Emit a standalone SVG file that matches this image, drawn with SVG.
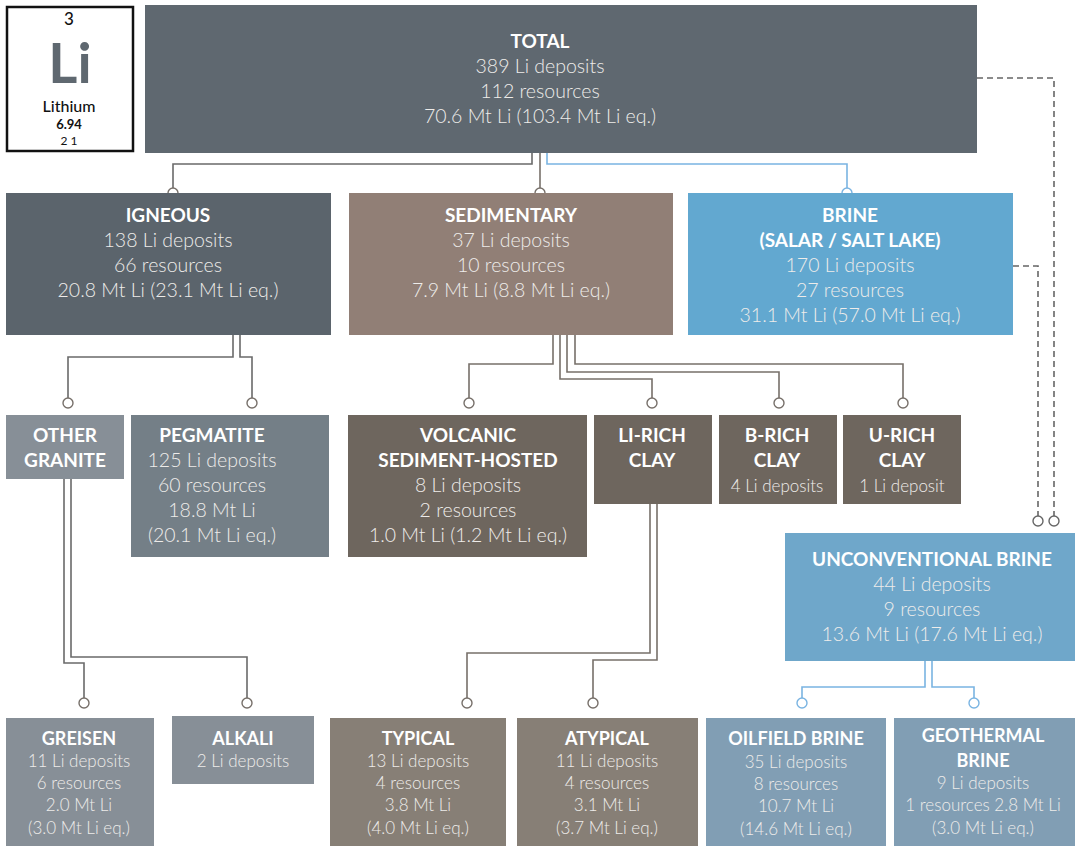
<svg xmlns="http://www.w3.org/2000/svg" width="1081" height="846" viewBox="0 0 1081 846">
<style>
.t{font-family:Lato,"Open Sans","Liberation Sans",sans-serif;font-weight:700;fill:#ffffff;text-anchor:middle;font-size:19px}
.v{font-family:Lato,"Open Sans","Liberation Sans",sans-serif;font-weight:300;fill:#eeecea;text-anchor:middle;font-size:19.5px}
.ts{font-size:18px}
.vs{font-size:17px}
.el{font-family:Lato,"DejaVu Sans","Liberation Sans",sans-serif;text-anchor:middle;fill:#111}
.g{fill:none;stroke:#77706a;stroke-width:1.6}
.gi{fill:none;stroke:#6a6a6a;stroke-width:1.6}
.b{fill:none;stroke:#7ab4e2;stroke-width:1.6}
.d{fill:none;stroke:#666;stroke-width:1.6;stroke-dasharray:6 4}
.c{fill:#fff;stroke:#77706a;stroke-width:1.4}
.cb{fill:#fff;stroke:#7ab4e2;stroke-width:1.4}
.cd{fill:#fff;stroke:#666;stroke-width:1.4}
</style>
<rect width="1081" height="846" fill="#fff"/>

<g id="element">
<rect x="7" y="7" width="126" height="144" fill="#fff" stroke="#111" stroke-width="2.5"/>
<text class="el" x="69" y="25" font-size="17" font-weight="500">3</text>
<text class="el" x="70" y="83" font-size="56" font-weight="700" style="fill:#5f6870">Li</text>
<text class="el" x="69" y="112" font-size="16" font-weight="500">Lithium</text>
<text class="el" x="69" y="129" font-size="13" font-weight="700">6.94</text>
<text class="el" x="69" y="145" font-size="12">2 1</text>
</g>

<g id="connectors">
<path class="gi" d="M532 153V164H173V193"/>
<path class="g" d="M540 153V193"/>
<path class="b" d="M547 153V164H847V193"/>
<path class="d" d="M977 78H1054V516"/>
<path class="d" d="M1013 266H1038V516"/>
<path class="gi" d="M233 335V357H68V403"/>
<path class="gi" d="M240 335V357H252V403"/>
<path class="g" d="M553 335V364H469V403"/>
<path class="g" d="M560 335V379H652V403"/>
<path class="g" d="M567 335V372H779V403"/>
<path class="g" d="M575 335V364H903V403"/>
<path class="gi" d="M64 479V663H84V703"/>
<path class="gi" d="M71 479V657H247V703"/>
<path class="g" d="M650 504V653H467V703"/>
<path class="g" d="M657 504V660H593V703"/>
<path class="b" d="M925 661V687H802V703"/>
<path class="b" d="M932 661V687H974V703"/>
<circle class="c" cx="173" cy="193" r="5"/>
<circle class="c" cx="540" cy="193" r="5"/>
<circle class="cb" cx="847" cy="193" r="5"/>
<circle class="cd" cx="1038" cy="521" r="5"/>
<circle class="cd" cx="1054" cy="521" r="5"/>
<circle class="c" cx="68" cy="403" r="5"/>
<circle class="c" cx="252" cy="403" r="5"/>
<circle class="c" cx="469" cy="403" r="5"/>
<circle class="c" cx="652" cy="403" r="5"/>
<circle class="c" cx="779" cy="403" r="5"/>
<circle class="c" cx="903" cy="403" r="5"/>
<circle class="c" cx="84" cy="703" r="5"/>
<circle class="c" cx="247" cy="703" r="5"/>
<circle class="c" cx="467" cy="703" r="5"/>
<circle class="c" cx="593" cy="703" r="5"/>
<circle class="cb" cx="802" cy="703" r="5"/>
<circle class="cb" cx="974" cy="703" r="5"/>
</g>

<g id="total">
<rect x="145" y="5" width="832" height="148" fill="#5f6870"/>
<text class="t" x="540" y="48">TOTAL</text>
<text class="v" x="540" y="73">389 Li deposits</text>
<text class="v" x="540" y="98">112 resources</text>
<text class="v" x="540" y="123">70.6 Mt Li (103.4 Mt Li eq.)</text>
</g>

<g id="igneous">
<rect x="6" y="193" width="325" height="142" fill="#5b646c"/>
<text class="t" x="168" y="222">IGNEOUS</text>
<text class="v" x="168" y="247">138 Li deposits</text>
<text class="v" x="168" y="272">66 resources</text>
<text class="v" x="168" y="297">20.8 Mt Li (23.1 Mt Li eq.)</text>
</g>

<g id="sedimentary">
<rect x="349" y="193" width="324" height="142" fill="#917f76"/>
<text class="t" x="511" y="222">SEDIMENTARY</text>
<text class="v" x="511" y="247">37 Li deposits</text>
<text class="v" x="511" y="272">10 resources</text>
<text class="v" x="511" y="297">7.9 Mt Li (8.8 Mt Li eq.)</text>
</g>

<g id="brine">
<rect x="688" y="193" width="325" height="142" fill="#62a8d0"/>
<text class="t" x="850" y="222">BRINE</text>
<text class="t" x="850" y="247">(SALAR / SALT LAKE)</text>
<text class="v" x="850" y="272">170 Li deposits</text>
<text class="v" x="850" y="297">27 resources</text>
<text class="v" x="850" y="322">31.1 Mt Li (57.0 Mt Li eq.)</text>
</g>

<g id="other-granite">
<rect x="6" y="415" width="118" height="64" fill="#878f97"/>
<text class="t" x="65" y="442">OTHER</text>
<text class="t" x="65" y="467">GRANITE</text>
</g>

<g id="pegmatite">
<rect x="131" y="415" width="198" height="142" fill="#747f87"/>
<text class="t" x="212" y="442">PEGMATITE</text>
<text class="v" x="212" y="467">125 Li deposits</text>
<text class="v" x="212" y="492">60 resources</text>
<text class="v" x="212" y="517">18.8 Mt Li</text>
<text class="v" x="212" y="542">(20.1 Mt Li eq.)</text>
</g>

<g id="volcanic">
<rect x="348" y="415" width="239" height="142" fill="#6e665e"/>
<text class="t" x="468" y="442">VOLCANIC</text>
<text class="t" x="468" y="467">SEDIMENT-HOSTED</text>
<text class="v" x="468" y="492">8 Li deposits</text>
<text class="v" x="468" y="517">2 resources</text>
<text class="v" x="468" y="542">1.0 Mt Li (1.2 Mt Li eq.)</text>
</g>

<g id="li-rich-clay">
<rect x="594" y="415" width="118" height="89" fill="#6e665e"/>
<text class="t" x="652" y="442">LI-RICH</text>
<text class="t" x="652" y="467">CLAY</text>
</g>

<g id="b-rich-clay">
<rect x="719" y="415" width="118" height="89" fill="#6e665e"/>
<text class="t" x="777" y="442">B-RICH</text>
<text class="t" x="777" y="467">CLAY</text>
<text class="v vs" x="777" y="492">4 Li deposits</text>
</g>

<g id="u-rich-clay">
<rect x="843" y="415" width="118" height="89" fill="#6e665e"/>
<text class="t" x="902" y="442">U-RICH</text>
<text class="t" x="902" y="467">CLAY</text>
<text class="v vs" x="902" y="492">1 Li deposit</text>
</g>

<g id="unconventional-brine">
<rect x="785" y="533" width="290" height="128" fill="#6fa7ca"/>
<text class="t" x="932" y="566">UNCONVENTIONAL BRINE</text>
<text class="v" x="932" y="591">44 Li deposits</text>
<text class="v" x="932" y="616">9 resources</text>
<text class="v" x="932" y="641">13.6 Mt Li (17.6 Mt Li eq.)</text>
</g>

<g id="greisen">
<rect x="6" y="718" width="148" height="128" fill="#878f97"/>
<text class="t ts" x="79" y="745">GREISEN</text>
<text class="v vs" x="79" y="767">11 Li deposits</text>
<text class="v vs" x="79" y="789">6 resources</text>
<text class="v vs" x="79" y="811">2.0 Mt Li</text>
<text class="v vs" x="79" y="834">(3.0 Mt Li eq.)</text>
</g>

<g id="alkali">
<rect x="172" y="716" width="142" height="68" fill="#878f97"/>
<text class="t ts" x="243" y="745">ALKALI</text>
<text class="v vs" x="243" y="767">2 Li deposits</text>
</g>

<g id="typical">
<rect x="330" y="718" width="176" height="128" fill="#877f76"/>
<text class="t ts" x="418" y="745">TYPICAL</text>
<text class="v vs" x="418" y="767">13 Li deposits</text>
<text class="v vs" x="418" y="789">4 resources</text>
<text class="v vs" x="418" y="811">3.8 Mt Li</text>
<text class="v vs" x="418" y="834">(4.0 Mt Li eq.)</text>
</g>

<g id="atypical">
<rect x="517" y="718" width="181" height="128" fill="#877f76"/>
<text class="t ts" x="607" y="745">ATYPICAL</text>
<text class="v vs" x="607" y="767">11 Li deposits</text>
<text class="v vs" x="607" y="789">4 resources</text>
<text class="v vs" x="607" y="811">3.1 Mt Li</text>
<text class="v vs" x="607" y="834">(3.7 Mt Li eq.)</text>
</g>

<g id="oilfield-brine">
<rect x="706" y="718" width="180" height="128" fill="#819eb4"/>
<text class="t ts" x="796" y="745">OILFIELD BRINE</text>
<text class="v vs" x="796" y="768">35 Li deposits</text>
<text class="v vs" x="796" y="790">8 resources</text>
<text class="v vs" x="796" y="812">10.7 Mt Li</text>
<text class="v vs" x="796" y="835">(14.6 Mt Li eq.)</text>
</g>

<g id="geothermal-brine">
<rect x="894" y="718" width="181" height="128" fill="#819eb4"/>
<text class="t ts" x="983" y="742">GEOTHERMAL</text>
<text class="t ts" x="983" y="767">BRINE</text>
<text class="v vs" x="983" y="789">9 Li deposits</text>
<text class="v vs" x="983" y="811">1 resources 2.8 Mt Li</text>
<text class="v vs" x="983" y="834">(3.0 Mt Li eq.)</text>
</g>
</svg>
